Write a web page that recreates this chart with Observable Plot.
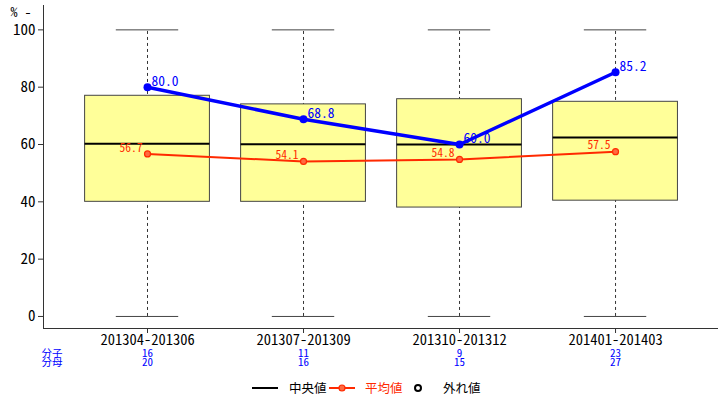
<!DOCTYPE html>
<html><head><meta charset="utf-8">
<script src="https://cdn.jsdelivr.net/npm/d3@7"></script>
<script src="https://cdn.jsdelivr.net/npm/@observablehq/plot@0.6"></script>
<style>
body{margin:0;background:#fff;}
#wrap{position:relative;width:720px;height:401px;overflow:hidden;}
#legend{position:absolute;left:0;top:376px;width:720px;height:25px;font-family:"Noto Sans Mono CJK JP","Noto Sans CJK JP",sans-serif;font-size:12.5px;}
#legend span{position:absolute;top:3px;line-height:18px;}
#legend svg{position:absolute;}
</style>
</head><body><div id="wrap"><div id="chart"></div><div id="legend"></div></div>
<script>
const categories = ["201304-201306","201307-201309","201310-201312","201401-201403"];
const lower  = [0, 0, 0, 0];
const q1     = [40.0, 40.0, 38.0, 40.4];
const median = [60.3, 60.1, 60.0, 62.4];
const q3     = [77.0, 74.0, 75.8, 74.9];
const upper  = [100, 100, 100, 100];
const rate   = [80.0, 68.8, 60.0, 85.2];
const mean   = [56.7, 54.1, 54.8, 57.5];
const numer  = [16, 11, 9, 23];
const denom  = [20, 16, 15, 27];
const yTicks = [0, 20, 40, 60, 80, 100];
const legendLabels = ["中央値", "平均値", "外れ値"];

const rows = categories.map((c, i) => ({i, c, lo: lower[i], q1: q1[i], med: median[i], q3: q3[i], hi: upper[i],
  rate: rate[i], mean: mean[i], numer: numer[i], denom: denom[i]}));

const xDomain = [-0.6667, 3.66];
const yDomain = [-4.2, 108.5];
const font = '"Noto Sans Mono CJK JP","Noto Sans CJK JP",sans-serif';
const blue = "#0000ff", red = "#ff2a00";

const plot = Plot.plot({
  width: 720, height: 376,
  marginLeft: 43, marginRight: 2, marginTop: 5, marginBottom: 48,
  style: {fontFamily: font, background: "#fff"},
  x: {domain: xDomain, axis: null},
  y: {domain: yDomain, axis: null},
  marks: [
    Plot.ruleX(rows, {x: "i", y1: "lo", y2: "hi", stroke: "#000", strokeWidth: 0.8, strokeDasharray: "3,3"}),
    Plot.rect(rows, {x1: d => d.i - 0.4, x2: d => d.i + 0.4, y1: "q1", y2: "q3", fill: "#ffff99", stroke: "#444", strokeWidth: 1}),
    Plot.ruleY(rows, {x1: d => d.i - 0.4, x2: d => d.i + 0.4, y: "med", stroke: "#000", strokeWidth: 2}),
    Plot.ruleY(rows, {x1: d => d.i - 0.2, x2: d => d.i + 0.2, y: "lo", stroke: "#444", strokeWidth: 1}),
    Plot.ruleY(rows, {x1: d => d.i - 0.2, x2: d => d.i + 0.2, y: "hi", stroke: "#444", strokeWidth: 1}),
    Plot.line(rows, {x: "i", y: "mean", stroke: red, strokeWidth: 2}),
    Plot.dot(rows, {x: "i", y: "mean", r: 3, fill: "#ff6a40", stroke: red, strokeWidth: 1.2}),
    Plot.text(rows, {x: "i", y: "mean", text: d => d.mean.toFixed(1), dx: -5, dy: -6, textAnchor: "end", fill: red, fontSize: 11.5}),
    Plot.line(rows, {x: "i", y: "rate", stroke: blue, strokeWidth: 3.5}),
    Plot.dot(rows, {x: "i", y: "rate", r: 4, fill: blue}),
    Plot.text(rows, {x: "i", y: "rate", text: d => d.rate.toFixed(1), dx: 4, dy: -6, textAnchor: "start", fill: blue, fontSize: 13.5}),
    Plot.ruleX([xDomain[0]], {stroke: "#333"}),
    Plot.ruleY([yDomain[0]], {stroke: "#333"}),
    Plot.axisY({ticks: yTicks, tickSize: 5, tickPadding: 3, fontSize: 15, label: null, stroke: "#333", fill: "#000"}),
    Plot.axisX({ticks: [0, 1, 2, 3], tickFormat: i => categories[i], tickSize: 5, tickPadding: 1, fontSize: 14.5, label: null, stroke: "#333", fill: "#000"}),
    Plot.text(["% -"], {frameAnchor: "top-left", dx: -33, dy: 2, textAnchor: "start", fontSize: 14, fill: "#000"}),
    Plot.text(["分子"], {frameAnchor: "bottom-left", dx: -2, dy: 28, textAnchor: "start", fill: blue, fontSize: 10.5}),
    Plot.text(["分母"], {frameAnchor: "bottom-left", dx: -2, dy: 37.5, textAnchor: "start", fill: blue, fontSize: 10.5}),
    Plot.text(rows, {x: "i", text: "numer", frameAnchor: "bottom", dy: 28, fill: blue, fontSize: 11}),
    Plot.text(rows, {x: "i", text: "denom", frameAnchor: "bottom", dy: 37.5, fill: blue, fontSize: 11})
  ]
});
document.getElementById("chart").appendChild(plot);

const lg = document.getElementById("legend");
lg.innerHTML =
  `<svg style="left:250px;top:0" width="30" height="25"><line x1="2" x2="28" y1="12" y2="12" stroke="#000" stroke-width="2"/></svg>` +
  `<span style="left:289px;color:#000">${legendLabels[0]}</span>` +
  `<svg style="left:327px;top:0" width="30" height="25"><line x1="2" x2="28" y1="12" y2="12" stroke="${red}" stroke-width="2"/><circle cx="15" cy="12" r="3" fill="#ff6a40" stroke="${red}" stroke-width="1.2"/></svg>` +
  `<span style="left:365px;color:${red}">${legendLabels[1]}</span>` +
  `<svg style="left:410px;top:0" width="16" height="25"><circle cx="8" cy="12" r="3" fill="none" stroke="#000" stroke-width="2"/></svg>` +
  `<span style="left:443px;color:#000">${legendLabels[2]}</span>`;
</script></body></html>
